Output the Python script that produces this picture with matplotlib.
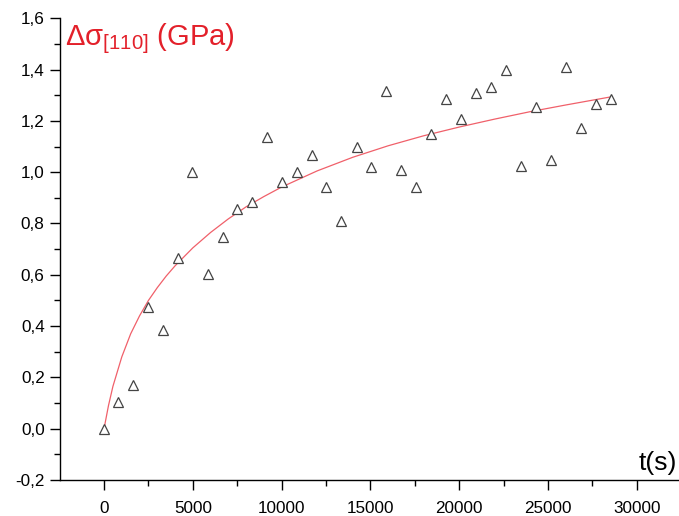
import numpy as np
import matplotlib.pyplot as plt
from matplotlib.ticker import MultipleLocator, FuncFormatter

plt.rcParams['font.family'] = 'Liberation Sans'
plt.rcParams['mathtext.fontset'] = 'custom'
plt.rcParams['mathtext.rm'] = 'Liberation Sans'
plt.rcParams['mathtext.it'] = 'Liberation Sans'

# mesures (triangles)
temps = [0, 800, 1650, 2480, 3320, 4170, 4960, 5860, 6700, 7490, 8330, 9180,
         10020, 10870, 11710, 12500, 13350, 14250, 15040, 15880, 16730, 17570,
         18420, 19260, 20100, 20950, 21790, 22640, 23480, 24330, 25170, 26020,
         26860, 27710, 28550]
delta_sigma = [0.0, 0.105, 0.17, 0.475, 0.386, 0.664, 1.001, 0.604, 0.749, 0.855,
               0.882, 1.138, 0.961, 1.001, 1.067, 0.942, 0.809, 1.098, 1.022, 1.316,
               1.009, 0.942, 1.149, 1.286, 1.207, 1.307, 1.333, 1.398, 1.023, 1.253,
               1.048, 1.411, 1.172, 1.267, 1.286]

# courbe d'ajustement
fit_t = [0, 250, 500, 1000, 1500, 2000, 2500, 3000, 3500, 4000, 5000, 6000,
         7000, 8000, 9000, 10000, 12000, 14000, 16000, 18000, 20000, 22000,
         24000, 26000, 28570]
fit_y = [0.0, 0.09, 0.165, 0.28, 0.37, 0.44, 0.50, 0.55, 0.595, 0.635, 0.705,
         0.765, 0.818, 0.865, 0.905, 0.942, 1.005, 1.058, 1.103, 1.142, 1.176,
         1.207, 1.236, 1.262, 1.294]

rouge = '#e3202a'

fig = plt.figure(figsize=(6.79, 5.16), dpi=100)
ax = fig.add_axes([60 / 679, 36 / 516, 1 - 60 / 679, (480 - 18.3) / 516])

ax.plot(fit_t, fit_y, color='#f0606a', lw=0.9, zorder=2)
ax.plot(temps, delta_sigma, linestyle='none', marker='^', ms=6.6,
        mfc='white', mec='#444444', mew=0.9, zorder=3)

ax.set_xlim(-2480, 32380)
ax.set_ylim(-0.2, 1.6)

ax.xaxis.set_major_locator(MultipleLocator(5000))
ax.xaxis.set_minor_locator(MultipleLocator(2500))
ax.yaxis.set_major_locator(MultipleLocator(0.2))
ax.yaxis.set_minor_locator(MultipleLocator(0.1))
ax.yaxis.set_major_formatter(FuncFormatter(lambda v, p: f"{v:.1f}".replace('.', ',')))
ax.xaxis.set_major_formatter(FuncFormatter(lambda v, p: f"{v:.0f}"))

for s in ['top', 'right']:
    ax.spines[s].set_visible(False)
for s in ['left', 'bottom']:
    ax.spines[s].set_linewidth(1.0)

ax.tick_params(which='major', direction='out', length=7, width=1.0, labelsize=12.3)
ax.tick_params(axis='y', which='major', pad=4)
ax.tick_params(axis='x', which='major', pad=8)
ax.tick_params(which='minor', direction='out', length=4.3, width=1.0)

fig.text(65 / 679, 1 - 45 / 516, r'Δσ$_{[110]}$ (GPa)', color=rouge, fontsize=21,
         ha='left', va='baseline')
fig.text(677 / 679, 1 - 470 / 516, 't(s)', color='black', fontsize=19,
         ha='right', va='baseline')

fig.savefig('out.png', dpi=100)
